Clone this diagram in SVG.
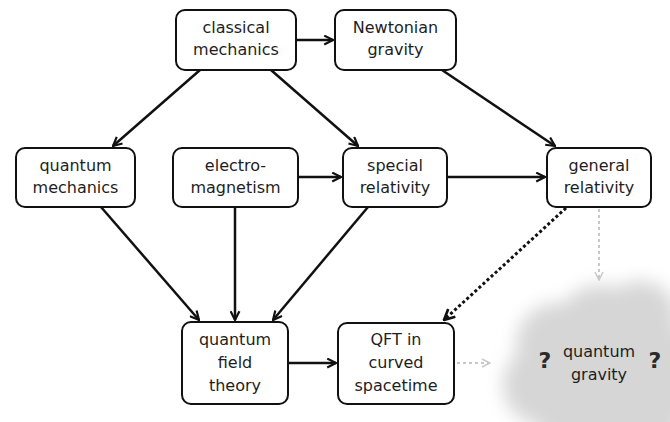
<svg xmlns="http://www.w3.org/2000/svg" width="670" height="422" viewBox="0 0 670 422">
<defs>
<style>
.box{fill:#fff;stroke:#111;stroke-width:2}
.t{font-family:"DejaVu Sans",Verdana,sans-serif;font-size:16px;fill:#1e1e1e;text-anchor:middle}
.e{fill:none;stroke:#111;stroke-width:2.5}
.d{fill:none;stroke:#111;stroke-width:3;stroke-dasharray:3 2.5}
.f{fill:none;stroke:#c8c8c8;stroke-width:2;stroke-dasharray:3 3}
.q{font-family:"DejaVu Sans",Verdana,sans-serif;font-size:22px;font-weight:bold;fill:#2a2a2a;text-anchor:middle}
</style>
<marker id="a" viewBox="0 0 10 10" refX="9" refY="5" markerWidth="4.4" markerHeight="4.4" orient="auto" markerUnits="strokeWidth">
<path d="M1,1 L9,5 L1,9" fill="none" stroke="#111" stroke-width="2"/>
</marker>
<marker id="af" viewBox="0 0 10 10" refX="9" refY="5" markerWidth="5" markerHeight="5" orient="auto" markerUnits="strokeWidth">
<path d="M1,1 L9,5 L1,9" fill="none" stroke="#c8c8c8" stroke-width="1.5"/>
</marker>
<filter id="blur" x="-30%" y="-30%" width="160%" height="160%"><feGaussianBlur stdDeviation="9"/></filter>
</defs>
<rect width="670" height="422" fill="#fff"/>
<g id="cloud" filter="url(#blur)" fill="#d6d6d6">
<circle cx="600" cy="328" r="43"/>
<circle cx="640" cy="318" r="37"/>
<circle cx="558" cy="345" r="42"/>
<circle cx="543" cy="385" r="40"/>
<circle cx="600" cy="385" r="55"/>
<circle cx="655" cy="375" r="50"/>
<rect x="540" y="340" width="140" height="100"/>
</g>
<g id="connectors">
<line class="e" x1="296" y1="40" x2="333" y2="40" marker-end="url(#a)"/>
<line class="e" x1="200" y1="70" x2="113" y2="146" marker-end="url(#a)"/>
<line class="e" x1="271" y1="70" x2="358" y2="146" marker-end="url(#a)"/>
<line class="e" x1="442" y1="70" x2="555" y2="146" marker-end="url(#a)"/>
<line class="e" x1="298" y1="177" x2="341" y2="177" marker-end="url(#a)"/>
<line class="e" x1="447" y1="177" x2="545" y2="177" marker-end="url(#a)"/>
<line class="e" x1="101" y1="207" x2="199" y2="320" marker-end="url(#a)"/>
<line class="e" x1="235" y1="207" x2="235" y2="320" marker-end="url(#a)"/>
<line class="e" x1="368" y1="207" x2="273" y2="320" marker-end="url(#a)"/>
<line class="e" x1="288" y1="363" x2="336" y2="363" marker-end="url(#a)"/>
<line class="d" x1="566" y1="208" x2="444" y2="320" marker-end="url(#a)"/>
<line class="f" x1="599" y1="209" x2="599" y2="280" marker-end="url(#af)"/>
<line class="f" x1="457" y1="363" x2="490" y2="363" marker-end="url(#af)"/>
</g>
<g id="classical-mechanics">
<rect class="box" x="176" y="10" width="120" height="60" rx="9"/>
<text class="t" x="236" y="33">classical</text>
<text class="t" x="236" y="55">mechanics</text>
</g>
<g id="newtonian-gravity">
<rect class="box" x="335" y="10" width="121" height="60" rx="9"/>
<text class="t" x="395.5" y="33">Newtonian</text>
<text class="t" x="395.5" y="55">gravity</text>
</g>
<g id="quantum-mechanics">
<rect class="box" x="16" y="148" width="119" height="59" rx="9"/>
<text class="t" x="75.5" y="171">quantum</text>
<text class="t" x="75.5" y="193">mechanics</text>
</g>
<g id="electromagnetism">
<rect class="box" x="173" y="148" width="125" height="59" rx="9"/>
<text class="t" x="235.5" y="171">electro-</text>
<text class="t" x="235.5" y="193">magnetism</text>
</g>
<g id="special-relativity">
<rect class="box" x="343" y="148" width="104" height="59" rx="9"/>
<text class="t" x="395" y="171">special</text>
<text class="t" x="395" y="193">relativity</text>
</g>
<g id="general-relativity">
<rect class="box" x="547" y="148" width="104" height="59" rx="9"/>
<text class="t" x="599" y="171">general</text>
<text class="t" x="599" y="193">relativity</text>
</g>
<g id="quantum-field-theory">
<rect class="box" x="182" y="322" width="106" height="82" rx="9"/>
<text class="t" x="235" y="345">quantum</text>
<text class="t" x="235" y="368">field</text>
<text class="t" x="235" y="391">theory</text>
</g>
<g id="qft-curved-spacetime">
<rect class="box" x="338" y="323" width="116" height="81" rx="9"/>
<text class="t" x="396" y="345">QFT in</text>
<text class="t" x="396" y="368">curved</text>
<text class="t" x="396" y="391">spacetime</text>
</g>
<g id="quantum-gravity">
<text class="q" x="545" y="368">?</text>
<text class="t" x="599" y="357">quantum</text>
<text class="t" x="599" y="380">gravity</text>
<text class="q" x="655" y="368">?</text>
</g>
</svg>
